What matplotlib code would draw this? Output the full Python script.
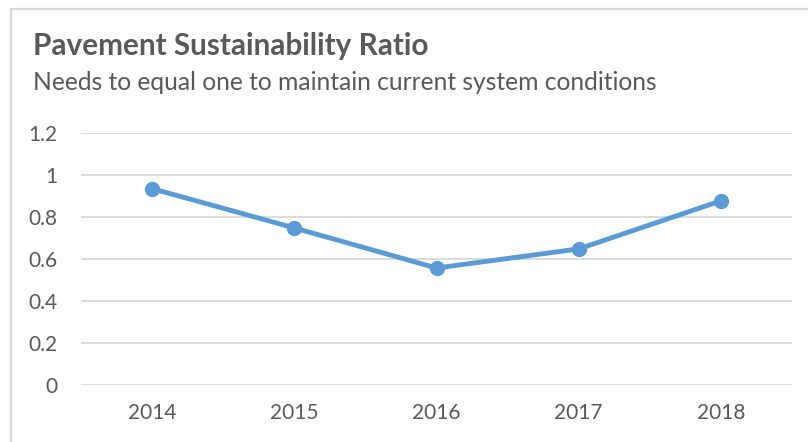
import matplotlib.pyplot as plt
from matplotlib.patches import Rectangle

years = ["2014", "2015", "2016", "2017", "2018"]
ratio = [0.935, 0.748, 0.557, 0.648, 0.877]

W, H = 808, 442
plt.rcParams['font.family'] = ['Lato', 'DejaVu Sans']
txt = "#595959"
blue = "#5B9BD5"
grid = "#D9D9D9"

fig = plt.figure(figsize=(W / 100, H / 100), dpi=100)

# chart border (cropped on the right and bottom)
fig.patches.append(Rectangle((11 / W, -0.1), 1.0, 1 - 9 / H + 0.1, transform=fig.transFigure,
                             fill=False, edgecolor=grid, linewidth=1.6))

ax = fig.add_axes([81 / W, 1 - 385 / H, (792 - 81) / W, (385 - 133) / H])
x = range(len(years))
ax.plot(x, ratio, color=blue, linewidth=3.5, marker="o", markersize=10, solid_capstyle="round", zorder=3)

ax.set_xlim(-0.5, len(years) - 0.5)
ax.set_ylim(0, 1.2)
ax.set_yticks([0, 0.2, 0.4, 0.6, 0.8, 1.0, 1.2])
ax.set_yticklabels(["0", "0.2", "0.4", "0.6", "0.8", "1", "1.2"])
ax.set_xticks(list(x))
ax.set_xticklabels(years)
ax.tick_params(length=0, labelsize=15, colors=txt)
ax.tick_params(axis="y", pad=17)
ax.tick_params(axis="x", pad=13)
ax.grid(axis="y", color=grid, linewidth=1.3)
ax.set_axisbelow(True)
for s in ax.spines.values():
    s.set_visible(False)

fig.text(33 / W, 1 - 46 / H, "Pavement Sustainability Ratio", fontsize=21.4, fontweight="bold",
         color=txt, va="center", ha="left")
fig.text(33 / W, 1 - 82 / H, "Needs to equal one to maintain current system conditions", fontsize=17.7,
         color=txt, va="center", ha="left")

fig.savefig("out.png", dpi=100)
